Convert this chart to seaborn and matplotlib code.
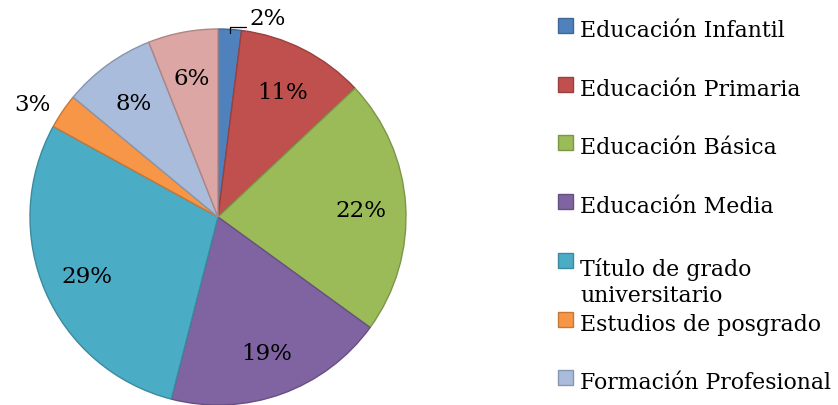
import numpy as np
import matplotlib.pyplot as plt
import matplotlib.colors as mcolors
from matplotlib.patches import Rectangle
import seaborn as sns

sns.set_style("white")
plt.rcParams['font.family'] = ['DejaVu Serif']
plt.rcParams['text.color'] = 'black'

# Data
categories = ['Educación Infantil', 'Educación Primaria', 'Educación Básica',
              'Educación Media', 'Título de grado\nuniversitario',
              'Estudios de posgrado', 'Formación Profesional', 'Otros']
values = [2, 11, 22, 19, 29, 3, 8, 6]
colors = ['#4F81BD', '#C0504D', '#9BBB59', '#8064A2',
          '#4BACC6', '#F79646', '#A9BCDB', '#DBA6A4']
edge_colors = [tuple(np.array(mcolors.to_rgb(c)) * 0.8) for c in colors]

W, H = 838, 405
fig = plt.figure(figsize=(W / 100, H / 100), dpi=100)

# pie axes: center (218, 217) px from top, radius 188 px
cx, cy, r = 218, 217, 188
ax = fig.add_axes([(cx - r) / W, (H - cy - r) / H, 2 * r / W, 2 * r / H])
wedges, _ = ax.pie(values, colors=colors, startangle=90, counterclock=False,
                   radius=1, wedgeprops=dict(linewidth=1.0))
for w, ec in zip(wedges, edge_colors):
    w.set_edgecolor(ec)
ax.set_xlim(-1, 1)
ax.set_ylim(-1, 1)
ax.set_aspect('equal')
ax.axis('off')

fs_pct = 16.5
total = sum(values)
cum = 0
for i, v in enumerate(values):
    mid = 90 - (cum + v / 2) / total * 360
    cum += v
    a = np.deg2rad(mid)
    txt = f'{v}%'
    if v >= 5:
        ax.text(0.76 * np.cos(a), 0.76 * np.sin(a) - 0.015, txt, ha='center',
                va='center', fontsize=fs_pct, clip_on=False)
    elif v == 2:
        # label above the pie with a leader line
        ex, ey = np.cos(a), np.sin(a)
        ax.annotate(txt, xy=(ex * 0.98, ey * 0.98), xytext=(ex + 0.2, ey + 0.055),
                    fontsize=fs_pct, ha='center', va='center',
                    arrowprops=dict(arrowstyle='-', color='black', lw=0.9,
                                    relpos=(0, 0.15),
                                    connectionstyle='angle,angleA=0,angleB=90,rad=0',
                                    shrinkA=0, shrinkB=0))
    else:
        ax.text(1.17 * np.cos(a) - 0.02, 1.17 * np.sin(a) - 0.06, txt,
                ha='center', va='center', fontsize=fs_pct, clip_on=False)

# legend entries with fixed row pitch (px); rows below the figure are not drawn
fs = 15.8
pitch = 58.7
line_h = 30
for i, (lab, c, ec) in enumerate(zip(categories, colors, edge_colors)):
    base = 37 + i * pitch
    if base > H:
        continue
    n_lines = lab.count('\n') + 1
    fig.add_artist(Rectangle((558 / W, 1 - (base - 4) / H), 15 / W, 15 / H,
                             transform=fig.transFigure, facecolor=c,
                             edgecolor=ec, linewidth=1))
    fig.text(580 / W, 1 - (base + (n_lines - 1) * line_h) / H, lab, ha='left',
             va='baseline', fontsize=fs, linespacing=1.2)

fig.savefig('out.png', dpi=100)
